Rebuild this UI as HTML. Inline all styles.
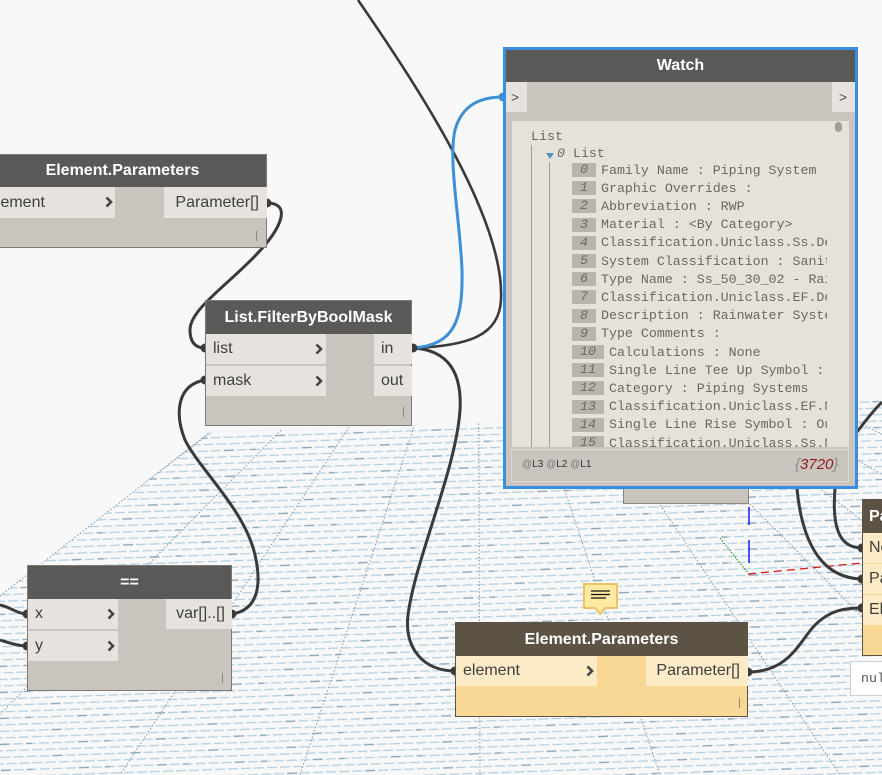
<!DOCTYPE html>
<html><head><meta charset="utf-8">
<style>
html,body{margin:0;padding:0}
body{width:882px;height:775px;position:relative;overflow:hidden;background:#f8f8f8;font-family:"Liberation Sans",sans-serif}
.abs{position:absolute;box-sizing:border-box}
.node{position:absolute;box-sizing:border-box;background:#c9c5be;border:1px solid #7d7a76}
.hdr{position:absolute;left:0;right:0;top:0;background:#5b5957;color:#fff;font-weight:bold;font-size:16px;text-align:center}
.row{position:absolute;background:#e6e3de;color:#3f3f3f;font-size:16px;box-sizing:border-box}
.y .row{background:#fdebc8}
.y{background:#f9d795;border-color:#5c5344}
.y .hdr{background:#5c5344}
.chev{position:absolute;width:8px;height:12px}
.rs{position:absolute;width:1px;height:10px;background:#8a8682}
.mono{font-family:"Liberation Mono",monospace}
.r{position:absolute;left:60px;height:18px;display:flex;align-items:center;white-space:pre;font-family:"Liberation Mono",monospace;font-size:13.3px;color:#6f665c}
.ix{display:inline-block;background:#b9b4ad;padding:0 8px;height:14px;line-height:14px;margin-right:5px;font-style:italic;color:#6e6860}
</style></head><body>

<svg class="abs" style="left:0;top:0" width="882" height="775" viewBox="0 0 882 775">
<defs>
<pattern id="g1" width="26" height="13" patternUnits="userSpaceOnUse" patternTransform="rotate(-2)">
<path d="M0 3h10M13 3h10M6 9.5h10M19 9.5h10M-7 9.5h10" stroke="#b2cfe2" stroke-width="1.3" fill="none"/>
</pattern>
<pattern id="g2" width="78" height="26" patternUnits="userSpaceOnUse" patternTransform="rotate(-2)">
<path d="M26 3h10M52 16h10M0 16h6" stroke="#8ea6ba" stroke-width="1.3" fill="none"/>
</pattern>
<clipPath id="cp"><polygon points="0,596 210,432 500,422 882,398 882,775 0,775"/></clipPath>
</defs>
<g clip-path="url(#cp)">
<rect x="0" y="380" width="882" height="400" fill="url(#g1)"/>
<rect x="0" y="380" width="882" height="400" fill="url(#g2)"/>
<g stroke="#7f97ab" stroke-width="1" stroke-dasharray="1.5 2" fill="none">
<path d="M478,231L-600,775M478,231L-420,775M478,231L-243,775M478,231L-60,775M478,231L120,775M478,231L300,775M478,231L480,775M478,231L660,775M478,231L840,775M478,231L1020,775M478,231L1200,775M478,231L1380,775M478,231L1560,775"/>
</g>
</g>
<path d="M0,596 L210,432" stroke="#7f97ab" stroke-width="1" stroke-dasharray="1.5 2"/>
<!-- axes -->
<path d="M749,507V525M749,540V563" stroke="#1a1aff" stroke-width="1.5"/>
<path d="M748,574L862,563" stroke="#e01010" stroke-width="1.3" stroke-dasharray="8 5"/>
<path d="M720,538L748,573" stroke="#109010" stroke-width="1" stroke-dasharray="1.5 1.5"/>
<!-- wires -->
<g fill="none" stroke="#3a3a3a" stroke-width="3">
<path d="M358,0 C420,90 505,220 501,300 C499,335 470,346 413,348" stroke-width="2.6"/>
<path d="M413,348 C450,350 462,375 460,410 C456,470 415,560 408,615 C404,650 425,671 455,671"/>
<path d="M267,203 C290,203 285,225 255,256 C225,287 190,310 190,330 C190,345 198,348 205,348"/>
<path d="M232,614 C258,610 262,585 255,555 C245,510 200,470 185,440 C175,415 176,385 205,380"/>
<path d="M0,605 C10,607 18,614 27,614"/>
<path d="M0,640 C10,643 18,646 27,646"/>
<path d="M748,672 C790,672 800,640 815,625 C830,610 845,608 862,608"/>
<path d="M797,489 C802,540 820,578 862,579"/>
<path d="M835,489 C832,525 838,548 862,548"/>
<path d="M857,432 C866,420 874,410 882,402"/>
</g>
<path d="M413,348 C455,345 463,320 462,270 C460,220 448,160 455,130 C462,105 480,97 503,97" fill="none" stroke="#3d8fd6" stroke-width="3"/>
<g fill="#3a3a3a">
<circle cx="267" cy="203" r="4.5"/><circle cx="205" cy="348" r="4.5"/><circle cx="205" cy="380" r="4.5"/>
<circle cx="413" cy="348" r="4.5"/><circle cx="232" cy="614" r="4.5"/><circle cx="27" cy="614" r="4.5"/>
<circle cx="27" cy="646" r="4.5"/><circle cx="455" cy="671" r="4.5"/><circle cx="748" cy="672" r="4.5"/>
<circle cx="862" cy="548" r="4.5"/><circle cx="862" cy="579" r="4.5"/><circle cx="862" cy="608" r="4.5"/>
</g>
<circle cx="503" cy="97" r="4.5" fill="#3d8fd6"/>
</svg>

<!-- Top-left Element.Parameters -->
<div class="node" style="left:-22px;top:154px;width:289px;height:94px">
 <div class="hdr" style="height:32px;line-height:32px">Element.Parameters</div>
 <div class="row" style="left:0;top:32px;width:136px;height:31px;line-height:31px;padding-left:9px">element</div>
 <svg class="chev" style="left:126px;top:41px" viewBox="0 0 8 12"><polyline points="1.5,1.5 6,6 1.5,10.5" fill="none" stroke="#444" stroke-width="2.6"/></svg>
 <div class="row" style="left:185px;top:32px;width:103px;height:31px;line-height:31px;text-align:right;padding-right:8px">Parameter[]</div>
 <div class="rs" style="left:277px;top:76px"></div>
</div>

<!-- List.FilterByBoolMask -->
<div class="node" style="left:205px;top:300px;width:207px;height:126px">
 <div class="hdr" style="height:33px;line-height:33px">List.FilterByBoolMask</div>
 <div class="row" style="left:0;top:33px;width:120px;height:30px;line-height:30px;padding-left:7px">list</div>
 <div class="row" style="left:0;top:65px;width:120px;height:30px;line-height:30px;padding-left:7px">mask</div>
 <svg class="chev" style="left:109px;top:42px" viewBox="0 0 8 12"><polyline points="1.5,1.5 6,6 1.5,10.5" fill="none" stroke="#444" stroke-width="2.6"/></svg>
 <svg class="chev" style="left:109px;top:74px" viewBox="0 0 8 12"><polyline points="1.5,1.5 6,6 1.5,10.5" fill="none" stroke="#444" stroke-width="2.6"/></svg>
 <div class="row" style="left:168px;top:33px;width:38px;height:30px;line-height:30px;padding-left:7px">in</div>
 <div class="row" style="left:168px;top:65px;width:38px;height:30px;line-height:30px;padding-left:7px">out</div>
 <div class="rs" style="left:197px;top:106px"></div>
</div>

<!-- == -->
<div class="node" style="left:27px;top:565px;width:205px;height:126px">
 <div class="hdr" style="height:33px;line-height:33px">==</div>
 <div class="row" style="left:0;top:33px;width:90px;height:30px;line-height:30px;padding-left:7px">x</div>
 <div class="row" style="left:0;top:65px;width:90px;height:30px;line-height:30px;padding-left:7px">y</div>
 <svg class="chev" style="left:79px;top:42px" viewBox="0 0 8 12"><polyline points="1.5,1.5 6,6 1.5,10.5" fill="none" stroke="#444" stroke-width="2.6"/></svg>
 <svg class="chev" style="left:79px;top:74px" viewBox="0 0 8 12"><polyline points="1.5,1.5 6,6 1.5,10.5" fill="none" stroke="#444" stroke-width="2.6"/></svg>
 <div class="row" style="left:138px;top:33px;width:66px;height:30px;line-height:30px;text-align:right;padding-right:7px">var[]..[]</div>
 <div class="rs" style="left:194px;top:107px"></div>
</div>

<!-- box under watch -->
<div class="abs" style="left:623px;top:486px;width:126px;height:18px;background:#c9c5be;border:1px solid #8a8682"></div>

<!-- Watch -->
<div class="abs" style="left:503px;top:47px;width:355px;height:442px;border:3px solid #3a8ee0;background:#c9c5be">
 <div class="hdr" style="height:32px;line-height:32px">Watch</div>
 <div class="abs" style="left:0;top:32px;width:21px;height:30px;background:#e6e3de;color:#555;font-size:14px;line-height:30px;padding-left:5px">&gt;</div>
 <div class="abs" style="left:326px;top:32px;width:23px;height:30px;background:#e6e3de;color:#555;font-size:14px;line-height:30px;padding-left:7px">&gt;</div>
 <div class="abs" style="left:6px;top:71px;width:337px;height:326px;background:#e5e2dc;overflow:hidden">
  <div class="abs" style="left:0;top:0;width:315px;height:326px;overflow:hidden">
   <div class="abs" style="left:19px;top:24px;width:1px;height:310px;background:#a29c94"></div>
   <div class="abs" style="left:37px;top:41px;width:1px;height:290px;background:#a29c94"></div>
   <div class="r" style="left:19px;top:6px">List</div>
   <div class="abs" style="left:34px;top:32px;width:0;height:0;border-left:4px solid transparent;border-right:4px solid transparent;border-top:6px solid #5a8fc4"></div>
   <div class="r" style="left:45px;top:23px"><i>0</i> List</div>
   <div class="r" style="top:40px"><span class="ix">0</span>Family Name : Piping System</div>
   <div class="r" style="top:58.2px"><span class="ix">1</span>Graphic Overrides :</div>
   <div class="r" style="top:76.4px"><span class="ix">2</span>Abbreviation : RWP</div>
   <div class="r" style="top:94.6px"><span class="ix">3</span>Material : &lt;By Category&gt;</div>
   <div class="r" style="top:112.8px"><span class="ix">4</span>Classification.Uniclass.Ss.Description</div>
   <div class="r" style="top:131px"><span class="ix">5</span>System Classification : Sanitary</div>
   <div class="r" style="top:149.2px"><span class="ix">6</span>Type Name : Ss_50_30_02 - Rainwater</div>
   <div class="r" style="top:167.4px"><span class="ix">7</span>Classification.Uniclass.EF.Description</div>
   <div class="r" style="top:185.6px"><span class="ix">8</span>Description : Rainwater System</div>
   <div class="r" style="top:203.8px"><span class="ix">9</span>Type Comments :</div>
   <div class="r" style="top:222px"><span class="ix">10</span>Calculations : None</div>
   <div class="r" style="top:240.2px"><span class="ix">11</span>Single Line Tee Up Symbol : None</div>
   <div class="r" style="top:258.4px"><span class="ix">12</span>Category : Piping Systems</div>
   <div class="r" style="top:276.6px"><span class="ix">13</span>Classification.Uniclass.EF.Number</div>
   <div class="r" style="top:294.8px"><span class="ix">14</span>Single Line Rise Symbol : Outline</div>
   <div class="r" style="top:313px"><span class="ix">15</span>Classification.Uniclass.Ss.Number</div>
  </div>
  <div class="abs" style="left:323px;top:1px;width:7px;height:10px;border-radius:4px;background:#a39e97"></div>
 </div>
 <div class="abs" style="left:5px;top:399px;width:338px;height:33px;border:1px solid #dbd7d0;background:#c9c5be">
  <div class="abs" style="left:10px;top:9px;font-size:10px;color:#333;line-height:12px"><span style="color:#777">@</span>L3 <span style="color:#777">@</span>L2 <span style="color:#777">@</span>L1</div>
  <div class="abs" style="left:283px;top:5px;font-size:15px;font-style:italic;line-height:20px;color:#8a8a8a">{<span style="color:#8e1c1c">3720</span>}</div>
 </div>
</div>

<!-- comment icon -->
<svg class="abs" style="left:582px;top:582px" width="38" height="36" viewBox="0 0 38 36">
<path d="M2,2 H35 V26 H23 L18,32 L13,26 H2 Z" fill="#fde9a0" stroke="#efc266" stroke-width="2"/>
<path d="M9,9H28M9,12.5H28M9,16H24" stroke="#111" stroke-width="1.3"/>
</svg>

<!-- bottom Element.Parameters (selected) -->
<div class="node y" style="left:455px;top:622px;width:293px;height:95px">
 <div class="hdr" style="height:33px;line-height:33px">Element.Parameters</div>
 <div class="row" style="left:0;top:33px;width:141px;height:30px;line-height:30px;padding-left:7px">element</div>
 <svg class="chev" style="left:130px;top:42px" viewBox="0 0 8 12"><polyline points="1.5,1.5 6,6 1.5,10.5" fill="none" stroke="#444" stroke-width="2.6"/></svg>
 <div class="row" style="left:190px;top:33px;width:102px;height:30px;line-height:30px;text-align:right;padding-right:8px">Parameter[]</div>
 <div class="rs" style="left:283px;top:75px"></div>
</div>

<!-- right partial node -->
<div class="node y" style="left:862px;top:499px;width:40px;height:157px">
 <div class="hdr" style="height:33px;line-height:33px;text-align:left;padding-left:6px">Pa</div>
 <div class="row" style="left:0;top:33px;width:40px;height:30px;line-height:30px;padding-left:6px">Ne</div>
 <div class="row" style="left:0;top:64px;width:40px;height:30px;line-height:30px;padding-left:6px">Pa</div>
 <div class="row" style="left:0;top:95px;width:40px;height:30px;line-height:30px;padding-left:6px">El</div>
</div>

<!-- nul box -->
<div class="abs mono" style="left:850px;top:661px;width:40px;height:35px;background:#fff;border:1px solid #d0d0d0;font-size:13.3px;color:#555;line-height:33px;padding-left:10px">null</div>

</body></html>
